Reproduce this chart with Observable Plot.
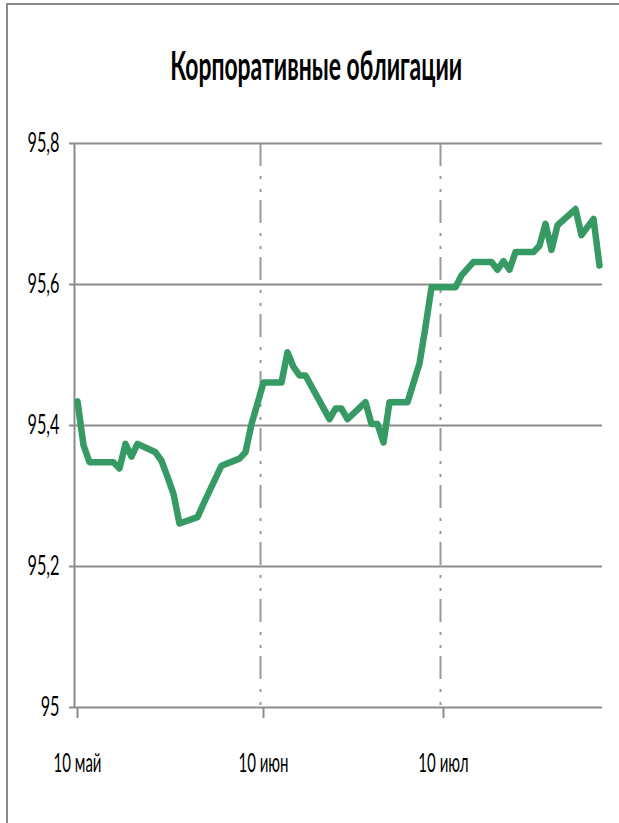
<!DOCTYPE html>
<html><head><meta charset="utf-8">
<script src="https://cdn.jsdelivr.net/npm/d3@7"></script>
<script src="https://cdn.jsdelivr.net/npm/@observablehq/plot@0.6"></script>
<style>
body{margin:0;background:#fff;}
#wrap{position:relative;width:619px;height:823px;overflow:hidden;background:#fff;font-family:Lato,"Open Sans",sans-serif;}
#frame{position:absolute;left:6px;top:3px;width:700px;height:900px;border-left:2px solid #8a8a8a;border-top:2px solid #8a8a8a;box-sizing:border-box;z-index:2;pointer-events:none;}
#title{position:absolute;left:7px;top:0;width:619px;height:100px;text-align:center;}
#tt{display:inline-block;font-weight:bold;font-size:41px;line-height:1;margin-top:44px;transform-origin:center;color:#000;white-space:nowrap;}
#chart{position:absolute;left:0;top:100px;z-index:1;}
</style></head><body>
<div id="wrap"><div id="frame"></div><div id="title"><span id="tt"></span></div><div id="chart"></div></div>
<script>
// Data
const dates = ["2011-05-10","2011-05-11","2011-05-12","2011-05-16","2011-05-17","2011-05-18","2011-05-19","2011-05-20",
  "2011-05-23","2011-05-24","2011-05-25","2011-05-26","2011-05-27","2011-05-30","2011-05-31","2011-06-03","2011-06-06",
  "2011-06-07","2011-06-08","2011-06-10","2011-06-13","2011-06-14","2011-06-15","2011-06-16","2011-06-17","2011-06-21",
  "2011-06-22","2011-06-23","2011-06-24","2011-06-27","2011-06-28","2011-06-29","2011-06-30","2011-07-01","2011-07-04",
  "2011-07-06","2011-07-07","2011-07-08","2011-07-12","2011-07-13","2011-07-15","2011-07-18","2011-07-19","2011-07-20",
  "2011-07-21","2011-07-22","2011-07-25","2011-07-26","2011-07-27","2011-07-28","2011-07-29","2011-08-01","2011-08-02",
  "2011-08-04","2011-08-05"];
const values = [95.434,95.372,95.348,95.348,95.339,95.374,95.356,95.374,
  95.362,95.350,95.327,95.303,95.261,95.270,95.289,95.343,95.353,
  95.362,95.402,95.461,95.461,95.504,95.483,95.471,95.471,95.409,
  95.424,95.424,95.409,95.433,95.402,95.402,95.376,95.433,95.433,
  95.488,95.540,95.596,95.596,95.613,95.632,95.632,95.621,95.633,
  95.621,95.646,95.646,95.655,95.686,95.649,95.684,95.707,95.670,
  95.693,95.627];
const yTicks = [95, 95.2, 95.4, 95.6, 95.8];
const yTickLabels = ["95", "95,2", "95,4", "95,6", "95,8"];
const xTickDates = ["2011-05-10", "2011-06-10", "2011-07-10"];
const xTickLabels = ["10 май", "10 июн", "10 июл"];
const xDomain = ["2011-05-10", "2011-08-06"];
const titleText = "Корпоративные облигации";

document.getElementById("tt").textContent = titleText;

const day = (s) => new Date(s + "T00:00:00Z");
const data = dates.map((d, i) => ({date: new Date(day(d).getTime() + 12 * 3600e3), value: values[i]}));
const xTicks = xTickDates.map(day);

const grid = "#8c8c8c";
const chart = Plot.plot({
  width: 619,
  height: 723,
  marginTop: 43,
  marginBottom: 116,
  marginLeft: 74,
  marginRight: 17,
  style: {fontFamily: 'Lato,"Open Sans",sans-serif', background: "transparent", color: "#000"},
  x: {type: "utc", domain: xDomain.map(day)},
  y: {domain: [95, 95.8]},
  marks: [
    Plot.ruleY(yTicks, {y: d => d, stroke: grid, strokeWidth: 2}),
    Plot.ruleX(xTicks.slice(1), {x: d => d, y1: 95.8, y2: 95, stroke: "#9a9a9a", strokeWidth: 2, strokeDasharray: "23,10,3,10,3,8"}),
    Plot.ruleX(xTicks.slice(0, 1), {x: d => d, y1: 95.8, y2: 95, stroke: grid, strokeWidth: 2}),
    Plot.axisY({ticks: yTicks, tickSize: 5, tickPadding: 10, fontSize: 26, stroke: grid, strokeWidth: 2,
      tickFormat: (d) => yTickLabels[yTicks.indexOf(d)], label: null}),
    Plot.axisX({ticks: xTicks, tickSize: 11, tickPadding: 35, fontSize: 26.5, stroke: grid, strokeWidth: 2, dx: 3,
      tickFormat: (d) => xTickLabels[xTicks.findIndex(t => +t === +d)], label: null}),
    Plot.line(data, {x: "date", y: "value", stroke: "#369a64", strokeWidth: 6.5, strokeLinejoin: "round", strokeLinecap: "round"})
  ]
});
document.getElementById("chart").appendChild(chart);

// horizontally condense text to match reference proportions
function squeeze(sel, refIndex, target) {
  const texts = [...chart.querySelectorAll(sel + " text")];
  if (!texts.length) return;
  const f = target / texts[refIndex].getComputedTextLength();
  texts.forEach(t => {
    const L = t.getComputedTextLength();
    t.setAttribute("textLength", L * f);
    t.setAttribute("lengthAdjust", "spacingAndGlyphs");
  });
}
squeeze('[aria-label="y-axis tick label"]', 4, 32);
squeeze('[aria-label="x-axis tick label"]', 0, 48);
chart.querySelectorAll("text").forEach(t => t.setAttribute("fill", "#000"));

const tt = document.getElementById("tt");
const w = tt.getBoundingClientRect().width;
tt.style.transform = `scaleX(${292 / w})`;
</script>
</body></html>
